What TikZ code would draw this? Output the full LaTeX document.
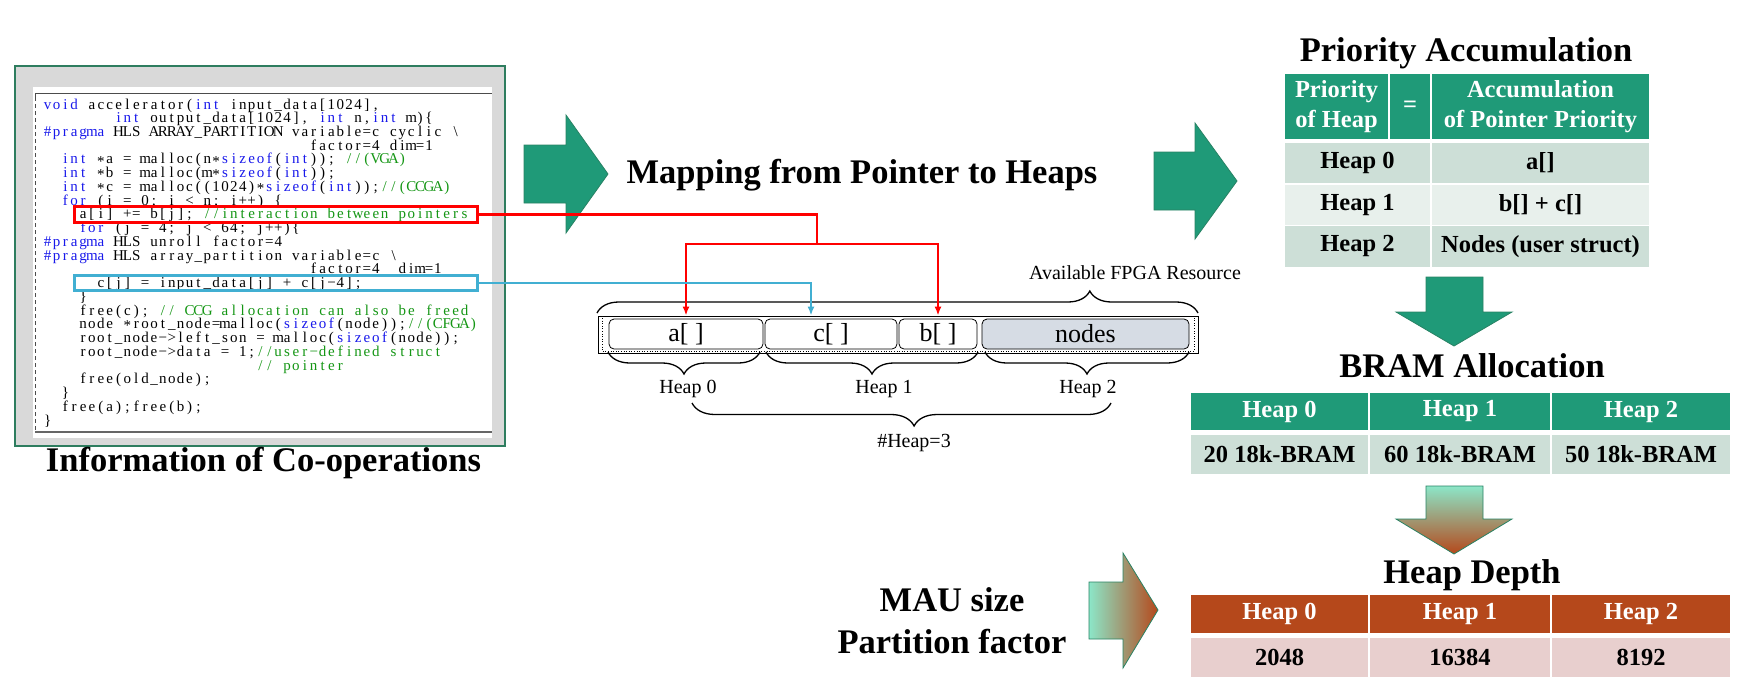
\documentclass[tikz,border=0pt]{standalone}
\usepackage{fontspec}
\setmainfont{Liberation Serif}
\usetikzlibrary{arrows.meta,decorations.pathreplacing}
\definecolor{hgreen}{RGB}{31,154,120}
\definecolor{rowA}{RGB}{205,223,215}
\definecolor{rowB}{RGB}{232,240,236}
\definecolor{hbrown}{RGB}{181,72,27}
\definecolor{rowpink}{RGB}{232,207,206}
\definecolor{nodesfill}{RGB}{214,220,228}
\definecolor{panelgray}{RGB}{217,217,217}
\definecolor{panelgreen}{RGB}{46,125,95}
\definecolor{mint}{RGB}{140,230,200}
\definecolor{rust}{RGB}{181,72,27}
\definecolor{codeblue}{RGB}{25,25,235}
\definecolor{codegreen}{RGB}{20,150,20}
\definecolor{cyanline}{RGB}{65,175,210}
\definecolor{arrowedge}{RGB}{40,130,100}
\ExplSyntaxOn
\dim_new:N \l_cw_dim
\dim_set:Nn \l_cw_dim {8.87pt}
\tl_new:N \l_cw_tl
\cs_new:Npn \clB {clB}
\cs_new:Npn \clG {clG}
\cs_new:Npn \clK {clK}
\cs_new:Npn \clS {clS}
\cs_new_protected:Npn \cw_item:n #1
  {
    \tl_if_single_token:nTF {#1}
      {
        \token_if_eq_meaning:NNTF #1 \clB { \color{codeblue} }
          {
            \token_if_eq_meaning:NNTF #1 \clG { \color{codegreen} }
              {
                \token_if_eq_meaning:NNTF #1 \clK { \color{black} }
                  {
                    \token_if_eq_meaning:NNTF #1 \clS { \skip_horizontal:N \l_cw_dim }
                      { \hbox_to_wd:nn { \l_cw_dim } { \hss #1 \hss } }
                  }
              }
          }
      }
      { \hbox_to_wd:nn { \l_cw_dim } { \hss #1 \hss } }
  }
\cs_new_protected:Npn \codeln #1
  {
    \tl_set:Nn \l_cw_tl {#1}
    \tl_replace_all:Nnn \l_cw_tl {~} {\clS}
    \tl_map_function:NN \l_cw_tl \cw_item:n
  }
\ExplSyntaxOff
\newcommand\ptrstar{\raisebox{-0.3ex}{*}}
\begin{document}
\begin{tikzpicture}[x=1pt,y=-1pt,
  title/.style={font=\fontsize{34.5}{40}\selectfont\bfseries, inner sep=0, anchor=base},
  codeline/.style={anchor=base west, inner sep=0, font=\fontsize{15}{16}\selectfont},
  cell/.style={draw=white, line width=1.5pt, inner sep=0, align=center, font=\fontsize{24.5}{30}\selectfont\bfseries},
  gcell/.style={cell, fill=hgreen, text=white},
  bcell/.style={cell, fill=hbrown, text=white},
  acell/.style={cell, fill=rowA},
  lcell/.style={cell, fill=rowB},
  pcell/.style={cell, fill=rowpink},
  heapbox/.style={draw=black, line width=0.8pt, rounded corners=5pt, inner sep=0, minimum height=30, font=\fontsize{26}{30}\selectfont},
  small/.style={inner sep=0, anchor=base, font=\fontsize{20}{24}\selectfont},
  bigarrow/.style={fill=hgreen, draw=arrowedge, line width=0.8pt},
  gradarrow/.style={draw=arrowedge, line width=0.8pt},
  bracestyle/.style={draw=black, line width=1.3pt, decorate},
  redline/.style={draw=red, line width=2.5pt},
  blueline/.style={draw=cyanline, line width=2.5pt},
  tip/.style={-{Latex[length=9pt,width=7pt]}}
]
\useasboundingbox (0,0) rectangle (1758,694);
% ---------------- code panel ----------------
\path[fill=panelgray, draw=panelgreen, line width=1.2pt] (15,66) rectangle (505,446);
\path[fill=white] (33,87) rectangle (492,438);
\draw[black!70, line width=0.8pt] (35,97) -- (35,93) -- (492,93);
\draw[black!70, line width=0.8pt, dash pattern=on 4pt off 3pt] (35,97) -- (35,432);
\draw[black!60, line width=1.4pt] (35,432) -- (492,432);
\node[codeline] (l1) at (43,109) {\codeln{\clB void \clK accelerator(\clB int \clK input\_data[1024],}};
\node[codeline] (l2) at (43+8*8.87,109+1*13.74) {\codeln{\clB int \clK output\_data[1024], \clB int \clK n,\clB int \clK m)\{}};
\node[codeline] (l3) at (43,109+2*13.74) {\codeln{\clB\#pragma \clK HLS ARRAY\_PARTITION variable=c cyclic \textbackslash}};
\node[codeline] (l4) at (43+30*8.87,109+3*13.74) {\codeln{factor=4 dim=1}};
\node[codeline] (l5) at (43+2*8.87,109+4*13.74) {\codeln{\clB int \clK \ptrstar a = malloc(n\ptrstar\clB sizeof\clK (\clB int\clK )); \clG //(VGA)}};
\node[codeline] (l6) at (43+2*8.87,109+5*13.74) {\codeln{\clB int \clK \ptrstar b = malloc(m\ptrstar\clB sizeof\clK (\clB int\clK ));}};
\node[codeline] (l7) at (43+2*8.87,109+6*13.74) {\codeln{\clB int \clK \ptrstar c = malloc((1024)\ptrstar\clB sizeof\clK (\clB int\clK ));\clG //(CCGA)}};
\node[codeline] (l8) at (43+2*8.87,109+7*13.74) {\codeln{\clB for \clK (i = 0; i < n; i++) \{}};
\node[codeline] (l9) at (43+4*8.87,109+8*13.74) {\codeln{a[i] += b[j]; \clG //interaction between pointers}};
\node[codeline] (l10) at (43+4*8.87,109+9*13.74) {\codeln{\clB for \clK (j = 4; j < 64; j++)\{}};
\node[codeline] (l11) at (43,109+10*13.74) {\codeln{\clB\#pragma \clK HLS unroll factor=4}};
\node[codeline] (l12) at (43,109+11*13.74) {\codeln{\clB\#pragma \clK HLS array\_partition variable=c \textbackslash}};
\node[codeline] (l13) at (43+30*8.87,109+12*13.74) {\codeln{factor=4\clS\clS dim=1}};
\node[codeline] (l14) at (43+6*8.87,109+13*13.74) {\codeln{c[j] = input\_data[j] + c[j−4];}};
\node[codeline] (l15) at (43+4*8.87,109+14*13.74) {\codeln{\}}};
\node[codeline] (l16) at (43+4*8.87,109+15*13.74) {\codeln{free(c); \clG // CCG allocation can also be freed}};
\node[codeline] (l17) at (43+4*8.87,109+16*13.74) {\codeln{node \ptrstar root\_node=malloc(\clB sizeof\clK (node));\clG //(CFGA)}};
\node[codeline] (l18) at (43+4*8.87,109+17*13.74) {\codeln{root\_node−>left\_son = malloc(\clB sizeof\clK (node));}};
\node[codeline] (l19) at (43+4*8.87,109+18*13.74) {\codeln{root\_node−>data = 1;\clG //user−defined struct}};
\node[codeline] (l20) at (43+24*8.87,109+19*13.74) {\codeln{\clG // pointer}};
\node[codeline] (l21) at (43+4*8.87,109+20*13.74) {\codeln{free(old\_node);}};
\node[codeline] (l22) at (43+2*8.87,109+21*13.74) {\codeln{\}}};
\node[codeline] (l23) at (43+2*8.87,109+22*13.74) {\codeln{free(a);free(b);}};
\node[codeline] (l24) at (43,109+23*13.74) {\codeln{\}}};
\node[draw=red, line width=3pt, minimum width=403, minimum height=16, inner sep=0] (redbox) at (276,214.5) {};
\node[draw=cyanline, line width=3pt, minimum width=403, minimum height=15, inner sep=0] (bluebox) at (276,283) {};
\node[title] (info) at (263.5,471) {Information of Co-operations};
% ---------------- big arrows ----------------
\path[bigarrow] (524,145) -- (566,145) -- (566,115) -- (608,174) -- (566,233) -- (566,203) -- (524,203) -- cycle;
\path[bigarrow] (1154,152) -- (1195,152) -- (1195,123) -- (1237,181) -- (1195,239) -- (1195,210) -- (1154,210) -- cycle;
\path[bigarrow] (1426,277) -- (1483,277) -- (1483,312) -- (1512,312) -- (1454,346) -- (1396,312) -- (1426,312) -- cycle;
\path[gradarrow, top color=mint, bottom color=rust] (1426,486) -- (1483,486) -- (1483,519) -- (1512,519) -- (1454,554) -- (1396,519) -- (1426,519) -- cycle;
\path[gradarrow, left color=mint, right color=rust] (1089,582) -- (1123,582) -- (1123,553) -- (1158,610) -- (1123,668) -- (1123,639) -- (1089,639) -- cycle;
% ---------------- mapping ----------------
\node[title] (maptitle) at (862,183) {Mapping from Pointer to Heaps};
\node[draw=black, line width=0.8pt, minimum width=600, minimum height=37, inner sep=0] (container) at (898,334.5) {};
\draw[black, line width=0.6pt, dotted] (602,318) -- (602,351) -- (1194,351) -- (1194,318);
\node[heapbox, minimum width=154] (abox) at (686,334) {a[ ]};
\node[heapbox, minimum width=132] (cbox) at (831,334) {c[ ]};
\node[heapbox, minimum width=78] (bbox) at (938,334) {b[ ]};
\node[heapbox, minimum width=207, fill=nodesfill] (nbox) at (1085.5,334) {nodes};
\draw[bracestyle, decoration={brace, amplitude=22pt, aspect=0.82}] (597,313) -- (1198,313);
\node[small] (avail) at (1135,279) {Available FPGA Resource};
\draw[bracestyle, decoration={brace, amplitude=22pt}] (760,352) -- (608,352);
\draw[bracestyle, decoration={brace, amplitude=22pt}] (978,352) -- (766,352);
\draw[bracestyle, decoration={brace, amplitude=22pt}] (1189,352) -- (985,352);
\node[small] (h0) at (688,393) {Heap 0};
\node[small] (h1) at (884,393) {Heap 1};
\node[small] (h2) at (1088,393) {Heap 2};
\draw[bracestyle, decoration={brace, amplitude=23pt, aspect=0.47}] (1111,403) -- (692,403);
\node[small] (nheap) at (914,447) {\#Heap=3};
% ---------------- connectors ----------------
\coordinate (rj) at (817,244);
\draw[redline] (redbox.east) -| (rj);
\draw[redline, tip] (rj) -| ([yshift=3pt]abox.north);
\draw[redline, tip] (rj) -| ([yshift=3pt]bbox.north);
\draw[blueline, tip] (bluebox.east) -| ([xshift=-20pt,yshift=3pt]cbox.north);
% ---------------- priority accumulation ----------------
\node[title] (pa) at (1466,61) {Priority Accumulation};
\node[gcell, minimum width=105, minimum height=67] (ph1) at (1336.5,106.5) {Priority\\of Heap};
\node[gcell, minimum width=42, minimum height=67] (ph2) at (1410,106.5) {=};
\node[gcell, minimum width=219, minimum height=67] (ph3) at (1540.5,106.5) {Accumulation\\of Pointer Priority};
\node[acell, minimum width=147, minimum height=41.7] (pr0a) at (1357.5,163) {Heap 0};
\node[acell, minimum width=219, minimum height=41.7] (pr0b) at (1540.5,163) {a[]};
\node[lcell, minimum width=147, minimum height=41.7] (pr1a) at (1357.5,204.7) {Heap 1};
\node[lcell, minimum width=219, minimum height=41.7] (pr1b) at (1540.5,204.7) {b[] + c[]};
\node[acell, minimum width=147, minimum height=41.7] (pr2a) at (1357.5,246.4) {Heap 2};
\node[acell, minimum width=219, minimum height=41.7] (pr2b) at (1540.5,246.4) {Nodes (user struct)};
% ---------------- BRAM allocation ----------------
\node[title] (bram) at (1472,377) {BRAM Allocation};
\node[gcell, minimum width=179, minimum height=39] (bh0) at (1279.5,411.5) {Heap 0};
\node[gcell, minimum width=182, minimum height=39] (bh1) at (1460,411.5) {Heap 1};
\node[gcell, minimum width=180, minimum height=39] (bh2) at (1641,411.5) {Heap 2};
\node[acell, minimum width=179, minimum height=40] (bd0) at (1279.5,454.5) {20 18k-BRAM};
\node[acell, minimum width=182, minimum height=40] (bd1) at (1460,454.5) {60 18k-BRAM};
\node[acell, minimum width=180, minimum height=40] (bd2) at (1641,454.5) {50 18k-BRAM};
% ---------------- heap depth ----------------
\node[title] (hd) at (1472,583) {Heap Depth};
\node[bcell, minimum width=179, minimum height=40] (dh0) at (1279.5,614) {Heap 0};
\node[bcell, minimum width=182, minimum height=40] (dh1) at (1460,614) {Heap 1};
\node[bcell, minimum width=180, minimum height=40] (dh2) at (1641,614) {Heap 2};
\node[pcell, minimum width=179, minimum height=40] (dd0) at (1279.5,657.5) {2048};
\node[pcell, minimum width=182, minimum height=40] (dd1) at (1460,657.5) {16384};
\node[pcell, minimum width=180, minimum height=40] (dd2) at (1641,657.5) {8192};
% ---------------- MAU ----------------
\node[title] (mau) at (952,611) {MAU size};
\node[title] (pf) at (952,653) {Partition factor};
\end{tikzpicture}
\end{document}
